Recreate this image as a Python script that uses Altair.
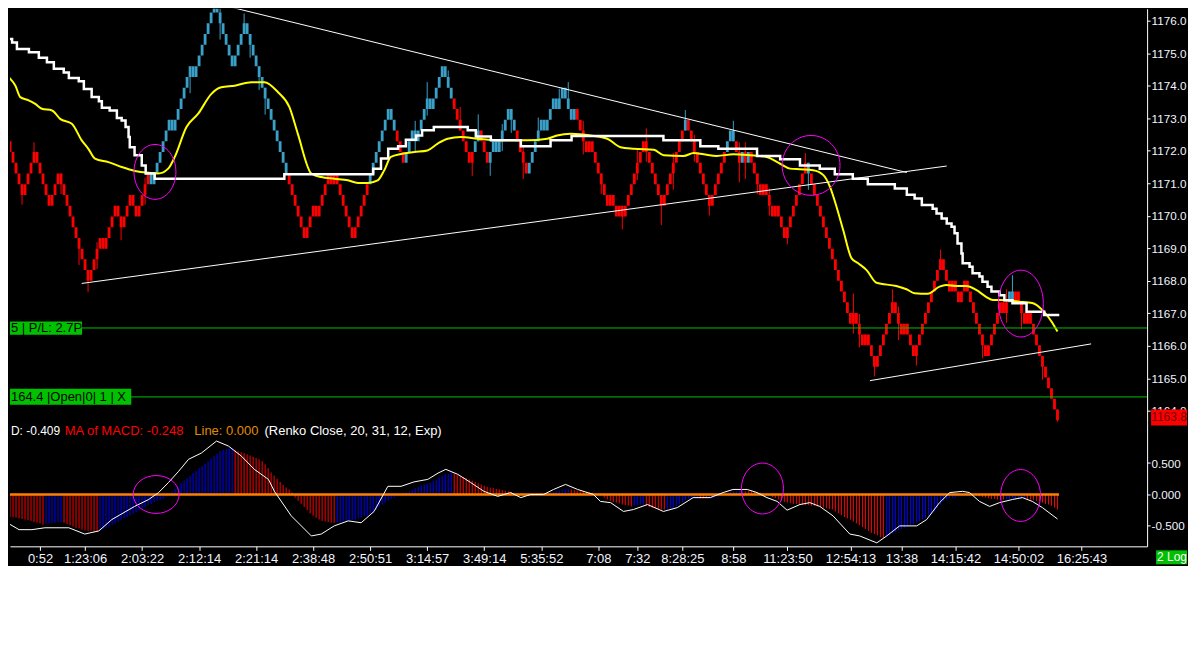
import json
import altair as alt
import pandas as pd

FONT = "Liberation Sans"
GREEN = "#00c000"

# ---------------- price bricks (renko) ----------------
BASE_PRICE = 1168.0
BRICK = 0.33
START_LEVEL = 12
# (colour, signed number of bricks): r = red bars, b = blue bars
RUNS = [
    ("r", 1), ("r", -5), ("r", 4), ("r", -5), ("r", 3), ("r", -10),
    ("r", 4), ("r", -1), ("r", 4), ("r", -2), ("r", 3), ("r", -2), ("r", 4),
    ("b", -1), ("b", 6), ("b", -1), ("b", 6), ("b", -1), ("b", 7),
    ("b", -6), ("b", 4), ("b", -14),
    ("r", -6), ("r", 3), ("r", -1), ("r", 3), ("r", 1), ("r", -1), ("r", 1), ("r", -6), ("r", 5),
    ("b", 7), ("b", -2), ("r", -3),
    ("b", 3), ("b", -1), ("b", 4), ("b", -1), ("b", 4),
    ("b", -3), ("r", -6), ("r", 1), ("b", 2), ("r", -3),
    ("b", 2), ("b", -1), ("b", 4), ("b", -2), ("r", -4),
    ("b", 5), ("b", -1), ("b", 3), ("b", -1), ("b", 2),
    ("b", -3), ("b", 1), ("r", -4), ("r", 1), ("r", -4),
    ("r", -2), ("r", 1), ("r", -2), ("r", 1), ("r", -1),
    ("r", 7), ("r", -6), ("r", 7), ("b", 1), ("r", -8), ("r", 5), ("b", 2),
    ("b", -1), ("r", -2), ("b", 1), ("r", -1), ("b", 1), ("r", -1),
    ("r", -3), ("r", 1), ("r", -3), ("r", 1), ("r", -3),
    ("r", 7), ("b", -1),
    ("r", -14), ("r", 1), ("r", -3), ("r", 1), ("r", -3),
    ("r", 6), ("r", -3), ("r", 1), ("r", -3),
    ("r", 9), ("r", -3), ("r", 1), ("r", -2), ("r", 2),
    ("r", -7), ("r", 5),
    ("r", -1), ("r", 1), ("b", 1), ("b", -1), ("r", 1), ("r", -3), ("r", 1), ("r", -10),
]
# wicks: (bar, extension below body, extension above body)
WICKS = [
    (6, 0.3, 0), (10, 0, 0.3), (19, 0.3, 0), (25, 0.5, 0), (28, 0.35, 0), (31, 0.3, 0.2),
    (39, 0.4, 0), (47, 0.3, 0.2), (62, 0.5, 0), (70, 0, 0.2), (72, 0.5, 0.3), (80, 0, 0.3),
    (82, 0.4, 0), (85, 0.4, 0), (87, 0.5, 0), (137, 0.3, 0.3), (141, 0.2, 0.5), (148, 0, 0.2),
    (152, 0, 0.4), (156, 0.4, 0), (158, 0, 0.5), (162, 0.4, 0), (166, 0.3, 0.2), (169, 0.4, 0),
    (173, 0.5, 0.2), (178, 0, 0.4), (185, 0, 0.3), (188, 0, 0.5), (193, 0.4, 0.3), (199, 0.3, 0),
    (206, 0.4, 0), (211, 0.2, 0.4), (214, 0.3, 0.4), (219, 0.6, 0), (223, 0.5, 0.3), (227, 0, 0.3),
    (230, 0.3, 0.2), (235, 0.3, 0), (243, 0, 0.3), (245, 0.6, 0.3), (247, 0.5, 0.3), (251, 0.3, 0),
    (255, 0.3, 0.2), (261, 0.2, 0), (267, 0, 0.3), (268, 0.5, 0), (283, 0.3, 0.6), (285, 0.4, 0.3),
    (290, 0.3, 0), (296, 0, 0.4), (298, 0.5, 0.2), (304, 0.3, 0), (312, 0, 0.3), (326, 0.4, 0),
    (334, 0.3, 0.4), (336, 0, 0.5), (339, 0.5, 0), (346, 0.4, 0), (351, 0.2, 0),
]
LAST_PRICE = 1163.8

# white stepped line (bar position, price)
WHITE_X = [0, 2.7, 4.3, 8.3, 11.6, 14.3, 16.6, 19.9, 21.6, 24.9, 26.6, 29.2, 31.6, 32.6, 35.2,
           37.6, 39.2, 40.5, 41.5, 41.9, 43.5, 45.9, 47.2, 50.2, 93.4, 123.0, 125.6, 128.0,
           131.3, 133.9, 137.3, 139.3, 143.2, 154.5, 157.2, 162.2, 172.2, 182.1, 189.1, 219.7,
           232.0, 238.0, 250.9, 258.6, 265.2, 271.8, 276.8, 282.8, 287.8, 296.8, 300.8, 303.4,
           305.8, 309.4, 310.7, 312.4, 314.1, 315.7, 316.7, 317.7, 319.0, 319.4, 321.7, 322.7,
           325.0, 326.0, 327.7, 329.0, 331.7, 333.3, 336.0, 340.7, 346.6, 351.6]
WHITE_Y = [1175.44, 1175.33, 1175.13, 1175.03, 1174.86, 1174.72, 1174.52, 1174.41, 1174.24,
           1174.14, 1173.90, 1173.65, 1173.52, 1173.32, 1173.24, 1173.01, 1172.93, 1172.73,
           1172.42, 1172.11, 1171.86, 1171.55, 1171.30, 1171.14, 1171.28, 1171.45, 1171.76,
           1172.06, 1172.14, 1172.34, 1172.47, 1172.63, 1172.73, 1172.63, 1172.44, 1172.32,
           1172.14, 1172.32, 1172.45, 1172.32, 1172.14, 1172.06, 1171.84, 1171.74, 1171.55,
           1171.45, 1171.28, 1171.14, 1170.97, 1170.84, 1170.65, 1170.53, 1170.33, 1170.22,
           1170.07, 1169.92, 1169.76, 1169.66, 1169.46, 1169.15, 1168.84, 1168.54, 1168.43,
           1168.23, 1168.13, 1167.97, 1167.82, 1167.67, 1167.56, 1167.40, 1167.31, 1167.05,
           1166.95, 1166.95]

# yellow moving average (bar position, price)
YELLOW_X = [0, 1.6, 3.8, 5.4, 8.2, 10.4, 12.6, 16.0, 18.7, 22.6, 25.9, 28.1, 30.3, 34.8, 39.2,
            43.6, 48.1, 51.4, 54.7, 56.9, 60.8, 64.7, 69.1, 72.4, 76.9, 82.4, 86.8, 91.3, 95.1,
            97.9, 102.4, 105.7, 110.1, 114.6, 117.9, 121.2, 124.5, 126.7, 128.9, 132.3, 136.7,
            141.1, 144.5, 147.8, 152.2, 157.8, 165.5, 174.4, 181.0, 184.3, 188.8, 195.4, 201.0,
            205.4, 209.8, 216.5, 219.8, 226.4, 229.8, 233.1, 237.5, 243.0, 248.6, 254.1, 258.6,
            261.9, 265.2, 269.6, 273.0, 275.2, 277.4, 279.6, 282.4, 284.6, 287.4, 290.7, 297.3,
            300.7, 303.4, 307.8, 311.7, 313.9, 317.3, 320.6, 323.9, 327.2, 329.5, 331.7, 338.3,
            342.6, 346.0, 349.0, 351.0]
YELLOW_Y = [1174.41, 1174.26, 1174.00, 1173.65, 1173.55, 1173.44, 1173.29, 1173.24, 1172.98,
            1172.83, 1172.32, 1172.06, 1171.76, 1171.65, 1171.50, 1171.38, 1171.32, 1171.30,
            1171.45, 1171.81, 1172.73, 1173.14, 1173.75, 1173.95, 1174.00, 1174.11, 1174.11,
            1173.80, 1173.34, 1172.52, 1171.30, 1171.19, 1171.14, 1171.09, 1171.01, 1171.01,
            1171.09, 1171.40, 1171.81, 1171.90, 1171.96, 1172.01, 1172.22, 1172.37, 1172.42,
            1172.37, 1172.32, 1172.32, 1172.37, 1172.47, 1172.52, 1172.47, 1172.37, 1172.11,
            1172.06, 1172.03, 1171.86, 1171.84, 1171.93, 1171.89, 1171.84, 1171.89, 1171.86,
            1171.81, 1171.60, 1171.45, 1171.43, 1171.40, 1171.25, 1170.89, 1170.27, 1169.56,
            1168.69, 1168.54, 1168.33, 1167.94, 1167.84, 1167.74, 1167.62, 1167.60, 1167.82,
            1167.87, 1167.84, 1167.84, 1167.72, 1167.51, 1167.41, 1167.41, 1167.36, 1167.32,
            1167.10, 1166.75, 1166.44]

# drawn trend lines: (bar1, price1, bar2, price2)
TRENDS = [(70.1, 1176.54, 300.8, 1171.33),
          (25.9, 1167.92, 314.1, 1171.53),
          (288.5, 1164.93, 362.2, 1166.06)]

PL_LEVEL = 1166.55
OPEN_LEVEL = 1164.43
PL_TEXT = "5 | P/L: 2.7P"
OPEN_TEXT = "164.4 |Open|0| 1 | X"

# ---------------- MACD ----------------
HIST = [
    -34, -35, -36, -36, -37, -38, -39, -40, -41, -42,
    -44, -45, -46, -48, -47, -46, -45, -45, -44, -44,
    -45, -47, -49, -51, -53, -54, -56, -57, -58, -58,
    -59, -59, -57, -55, -53, -51, -48, -46, -44, -41,
    -38, -36, -33, -31, -28, -25, -23, -20, -17, -15,
    -12, -10, -9, -7, -4, 0, 5, 9, 13, 18,
    22, 26, 30, 34, 38, 42, 45, 49, 53, 57,
    61, 65, 69, 71, 72, 73, 73, 71, 69, 67,
    66, 64, 62, 60, 58, 56, 53, 48, 42, 35,
    30, 25, 20, 15, 11, 8, 3, -5, -10, -15,
    -20, -25, -30, -34, -37, -40, -42, -43, -44, -45,
    -45, -44, -44, -43, -43, -42, -41, -40, -38, -36,
    -35, -34, -32, -28, -24, -20, -16, -13, -10, -7,
    -5, -3, 0, 3, 4, 5, 7, 10, 12, 14,
    16, 17, 19, 21, 24, 27, 30, 32, 33, 34,
    33, 31, 29, 28, 26, 24, 22, 20, 18, 16,
    14, 12, 11, 10, 9, 8, 7, 6, 5, 4,
    3, 2, 1, 0, -1, -2, -2, -1, -1, 0,
    1, 2, 3, 4, 5, 6, 7, 8, 9, 8,
    7, 6, 5, 5, 4, 4, 3, 2, 1, 0,
    -5, -8, -10, -12, -13, -14, -16, -17, -18, -19,
    -18, -17, -16, -16, -18, -20, -21, -22, -23, -24,
    -24, -23, -22, -21, -18, -15, -12, -9, -7, -5,
    -5, -5, -6, -6, -6, -5, -5, -4, -3, -2,
    0, 2, 4, 5, 5, 6, 6, 5, 5, 5,
    4, 3, 3, 2, 0, -2, -4, -6, -8, -10,
    -12, -13, -14, -15, -15, -16, -16, -17, -17, -18,
    -18, -19, -20, -21, -22, -23, -24, -27, -30, -33,
    -36, -38, -40, -43, -46, -49, -52, -55, -58, -61,
    -63, -65, -68, -69, -67, -65, -62, -60, -57, -55,
    -53, -51, -49, -47, -45, -43, -40, -37, -34, -31,
    -27, -22, -16, -10, -8, -6, -5, -4, -3, -3,
    -2, -2, -1, -1, -2, -3, -4, -5, -6, -7,
    -7, -8, -8, -8, -7, -7, -6, -6, -6, -6,
    -6, -7, -8, -9, -10, -11, -13, -15, -16, -18, -21, -24,
]  # hundredths
MACD_X = [0, 5.0, 9.3, 13.6, 21.6, 26.9, 31.6, 35.9, 43.5, 48.2, 51.5, 54.8, 58.2, 61.5, 65.8,
          70.8, 74.8, 79.1, 83.4, 88.1, 90.1, 95.7, 102.4, 105.7, 110.0, 114.7, 119.0, 123.3,
          127.9, 132.3, 136.6, 141.2, 144.6, 147.2, 151.2, 155.5, 159.9, 164.5, 168.8, 172.2,
          175.5, 179.8, 183.1, 187.1, 191.1, 196.4, 198.7, 202.1, 206.4, 209.7, 214.4, 219.7,
          224.3, 229.6, 235.3, 239.6, 242.9, 247.6, 250.9, 254.2, 257.6, 260.9, 265.2, 268.5,
          271.8, 276.2, 281.8, 285.1, 290.8, 294.1, 298.4, 304.1, 307.4, 311.7, 315.1, 319.4,
          321.7, 325.0, 328.4, 331.7, 336.0, 339.3, 342.6, 346.0, 351.0]
MACD_Y = [-0.42, -0.56, -0.56, -0.53, -0.53, -0.63, -0.58, -0.40, -0.19, -0.08, 0.03, 0.19, 0.37,
          0.56, 0.66, 0.85, 0.77, 0.61, 0.40, 0.24, 0.05, -0.34, -0.66, -0.63, -0.50, -0.42,
          -0.45, -0.27, 0.13, 0.13, 0.20, 0.24, 0.34, 0.40, 0.32, 0.19, 0.05, -0.03, 0.03, -0.05,
          0.00, 0.00, 0.08, 0.16, 0.08, 0.00, -0.11, -0.13, -0.27, -0.24, -0.16, -0.27, -0.21,
          -0.05, -0.05, 0.03, 0.08, 0.08, 0.03, -0.05, -0.11, -0.25, -0.16, -0.13, -0.19, -0.34,
          -0.63, -0.66, -0.77, -0.66, -0.50, -0.50, -0.40, -0.13, 0.03, 0.05, 0.03, -0.11, -0.19,
          -0.13, -0.08, -0.05, -0.11, -0.21, -0.39]
# (text, bar position or None for the left edge, colour, font size)
MACD_TEXTS = [("D: -0.409", None, "#ffffff", 12),
              ("MA of MACD: -0.248", 20.2, "#ff0000", 13),
              ("Line: 0.000", 63.4, "#e08a00", 13),
              ("(Renko Close, 20, 31, 12, Exp)", 86.8, "#ffffff", 13)]
MACD_TEXT_LEVEL = 1.016

# highlight ellipses: (bar, value, width px, height px)
PRICE_ELLIPSES = [(50.3, 1171.35, 42, 55), (268.9, 1171.55, 58, 60), (338.8, 1167.3, 45, 67)]
MACD_ELLIPSES = [(50.7, 0.0, 46, 38), (252.7, 0.095, 42, 51), (338.7, -0.016, 40, 52)]

# axes
X_TICKS = [12, 27, 46, 65, 84, 103, 122, 141, 160, 179, 198, 211, 226, 243, 261, 282, 299, 317, 338, 359]
X_LABELS = ["0:52", "1:23:06", "2:03:22", "2:12:14", "2:21:14", "2:38:48", "2:50:51", "3:14:57",
            "3:49:14", "5:35:52", "7:08", "7:32", "8:28:25", "8:58", "11:23:50", "12:54:13",
            "13:38", "14:15:42", "14:50:02", "16:25:43"]
PRICE_TICKS = [1164, 1165, 1166, 1167, 1168, 1169, 1170, 1171, 1172, 1173, 1174, 1175, 1176]
MACD_TICKS = [-0.5, 0.0, 0.5]

# ---------------- layout ----------------
XMIN, XMAX = 1.994, 380.86
PMIN, PMAX = 1163.669, 1176.368
MMIN, MMAX = -0.8254, 1.1587
W, H_PRICE, H_MACD = 1140, 414, 125

xs = alt.Scale(domain=[XMIN, XMAX], nice=False, zero=False)
ps = alt.Scale(domain=[PMIN, PMAX], nice=False, zero=False)
ms = alt.Scale(domain=[MMIN, MMAX], nice=False, zero=False)

AX = dict(title=None, grid=False, tickColor="white", domainColor="white",
          labelColor="#f2f4ff", labelFont=FONT, labelOverlap=False, labelFlush=False)
price_axis = alt.Axis(orient="right", values=PRICE_TICKS, format=".1f", tickSize=3,
                      labelPadding=1, labelFontSize=11.7, **AX)
macd_axis = alt.Axis(orient="right", values=MACD_TICKS, tickSize=3, labelPadding=1,
                     labelFontSize=11.7,
                     labelExpr="replace(format(datum.value, '.3f'), '\u2212', '-')", **AX)
x_axis = alt.Axis(orient="bottom", values=X_TICKS, tickSize=4, labelPadding=2, labelFontSize=13,
                  labelExpr=f"{json.dumps(X_LABELS)}[indexof({json.dumps(X_TICKS)}, datum.value)]",
                  **AX)


def PX(f):
    return alt.X(f, type="quantitative", scale=xs, axis=None)


def PY(f):
    return alt.Y(f, type="quantitative", scale=ps, axis=price_axis)


def MX(f):
    return alt.X(f, type="quantitative", scale=xs, axis=x_axis)


def MY(f):
    return alt.Y(f, type="quantitative", scale=ms, axis=macd_axis)


def price(level):
    return BASE_PRICE + BRICK * level


rows = [dict(i=0, o=price(START_LEVEL + 1), c=price(START_LEVEL), col="r")]
lvl = START_LEVEL
for col, n in RUNS:
    step = 1 if n > 0 else -1
    for _ in range(abs(n)):
        rows.append(dict(i=len(rows), o=price(lvl), c=price(lvl + step), col=col))
        lvl += step
bars = pd.DataFrame(rows)
bars["lo"] = bars[["o", "c"]].min(axis=1)
bars["hi"] = bars[["o", "c"]].max(axis=1)
bars["x1"] = bars["i"] - 0.47
bars["x2"] = bars["i"] + 0.47
NB = len(bars)

wk = []
for b, below, above in WICKS:
    if b < NB:
        r = bars.iloc[b]
        wk.append(dict(i=b, lo=r["lo"] - below, hi=r["hi"] + above, col=r["col"]))
wicks = pd.DataFrame(wk)

bar_colors = alt.Scale(domain=["r", "b"], range=["#ff0000", "#3aa0c8"])

bar_layer = alt.Chart(bars).mark_rect(clip=True).encode(
    x=PX("x1"), x2="x2", y=PY("lo"), y2="hi",
    color=alt.Color("col:N", scale=bar_colors, legend=None))
wick_layer = alt.Chart(wicks).mark_rule(clip=True, strokeWidth=1).encode(
    x=PX("i"), y=PY("lo"), y2="hi",
    color=alt.Color("col:N", scale=bar_colors, legend=None))
yellow_layer = alt.Chart(pd.DataFrame({"x": YELLOW_X, "y": YELLOW_Y})).mark_line(
    clip=True, color="#ffff00", strokeWidth=2, interpolate="monotone").encode(x=PX("x"), y=PY("y"))
white_layer = alt.Chart(pd.DataFrame({"x": WHITE_X, "y": WHITE_Y})).mark_line(
    clip=True, color="#ffffff", strokeWidth=2.5, interpolate="step-after").encode(x=PX("x"), y=PY("y"))
trend_df = pd.DataFrame(TRENDS, columns=["x1", "y1", "x2", "y2"])
trend_layer = alt.Chart(trend_df).mark_rule(clip=True, color="white", strokeWidth=1).encode(
    x=PX("x1"), x2="x2", y=PY("y1"), y2="y2")
green_layer = alt.Chart(pd.DataFrame({"y": [PL_LEVEL, OPEN_LEVEL]})).mark_rule(
    color=GREEN, strokeWidth=1).encode(y=PY("y"))
box_df = pd.DataFrame({"x1": [XMIN, XMIN], "x2": [26.0, 42.4],
                       "y1": [PL_LEVEL + 0.2, OPEN_LEVEL + 0.25],
                       "y2": [PL_LEVEL - 0.21, OPEN_LEVEL - 0.24],
                       "yc": [PL_LEVEL, OPEN_LEVEL], "t": [PL_TEXT, OPEN_TEXT]})
box_layer = alt.Chart(box_df).mark_rect(color=GREEN).encode(
    x=PX("x1"), x2="x2", y=PY("y1"), y2="y2")
boxtext_layer = alt.Chart(box_df).mark_text(
    align="left", baseline="middle", dx=1, color="black", font=FONT, fontSize=13).encode(
    x=PX("x1"), y=PY("yc"), text="t:N")


def ellipse_layer(items, X, Y):
    keys, paths, recs = [], [], []
    for k, (x, y, w, h) in enumerate(items):
        m = max(w, h)
        a, b = w / m, h / m
        keys.append(f"e{k}")
        paths.append(f"M {-a:.3f} 0 A {a:.3f} {b:.3f} 0 1 1 {a:.3f} 0 "
                     f"A {a:.3f} {b:.3f} 0 1 1 {-a:.3f} 0 Z")
        recs.append(dict(x=x, y=y, s=m * m, k=f"e{k}"))
    return alt.Chart(pd.DataFrame(recs)).mark_point(
        filled=False, color="#ff00ff", strokeWidth=1, opacity=1).encode(
        x=X("x"), y=Y("y"),
        shape=alt.Shape("k:N", scale=alt.Scale(domain=keys, range=paths), legend=None),
        size=alt.Size("s:Q", scale=None, legend=None))


last_df = pd.DataFrame({"x": [XMAX], "y": [LAST_PRICE], "t": [f"{LAST_PRICE:.1f}"]})
lastbox_layer = alt.Chart(last_df).mark_rect(
    color="#ff0000", xOffset=4, x2Offset=40, yOffset=-8, y2Offset=8).encode(
    x=PX("x"), x2="x", y=PY("y"), y2="y")
lasttext_layer = alt.Chart(last_df).mark_text(
    dx=22, align="center", baseline="middle", color="#700000", font=FONT, fontSize=12).encode(
    x=PX("x"), y=PY("y"), text="t:N")

price_panel = alt.layer(
    bar_layer, wick_layer, yellow_layer, white_layer, trend_layer, green_layer,
    box_layer, boxtext_layer, ellipse_layer(PRICE_ELLIPSES, PX, PY),
    lastbox_layer, lasttext_layer,
).properties(width=W, height=H_PRICE)

# ---- MACD panel ----
vals = [v / 100 for v in HIST[:NB]]
hcol = []
prev_c = "dn"
for k, v in enumerate(vals):
    if k > 0:
        if v > vals[k - 1]:
            prev_c = "up"
        elif v < vals[k - 1]:
            prev_c = "dn"
    hcol.append(prev_c)
hist_df = pd.DataFrame({"i": list(range(len(vals))), "v": vals, "z": 0.0, "col": hcol})
hist_layer = alt.Chart(hist_df).mark_rule(clip=True, strokeWidth=1).encode(
    x=MX("i"), y=MY("v"), y2="z",
    color=alt.Color("col:N", scale=alt.Scale(domain=["up", "dn"], range=["#0000ff", "#ff0000"]),
                    legend=None))
zero_layer = alt.Chart(pd.DataFrame({"x1": [XMIN], "x2": [NB - 0.5], "y": [0.0]})).mark_rule(
    color="#ff8000", strokeWidth=2.5).encode(x=MX("x1"), x2="x2", y=MY("y"))
macd_layer = alt.Chart(pd.DataFrame({"x": MACD_X, "y": MACD_Y})).mark_line(
    clip=True, color="white", strokeWidth=1).encode(x=MX("x"), y=MY("y"))

text_layers = []
for t, x, c, fs in MACD_TEXTS:
    xx = XMIN if x is None else x
    text_layers.append(
        alt.Chart(pd.DataFrame({"x": [xx], "y": [MACD_TEXT_LEVEL], "t": [t]})).mark_text(
            align="left", baseline="middle", dx=1 if x is None else 0, color=c, font=FONT,
            fontSize=fs).encode(x=MX("x"), y=MY("y"), text="t:N"))

log_df = pd.DataFrame({"x": [XMAX], "y": [MMIN], "t": ["2 Log"]})
logbox_layer = alt.Chart(log_df).mark_rect(
    color=GREEN, xOffset=9, x2Offset=40, yOffset=4, y2Offset=18).encode(
    x=MX("x"), x2="x", y=MY("y"), y2="y")
logtext_layer = alt.Chart(log_df).mark_text(
    dx=25, dy=11, align="center", baseline="middle", color="white", font=FONT,
    fontSize=12).encode(x=MX("x"), y=MY("y"), text="t:N")

macd_panel = alt.layer(
    hist_layer, zero_layer, macd_layer, ellipse_layer(MACD_ELLIPSES, MX, MY),
    *text_layers, logbox_layer, logtext_layer,
).properties(width=W, height=H_MACD)

chart = alt.vconcat(price_panel, macd_panel, spacing=0, bounds="flush").resolve_scale(
    x="independent", y="independent", color="independent", shape="independent",
    size="independent",
).properties(
    padding={"left": 0, "top": 0, "right": 0, "bottom": 0},
).configure(background="black").configure_view(strokeWidth=0)

chart.save("out.html", embed_options={"renderer": "svg", "actions": False})
